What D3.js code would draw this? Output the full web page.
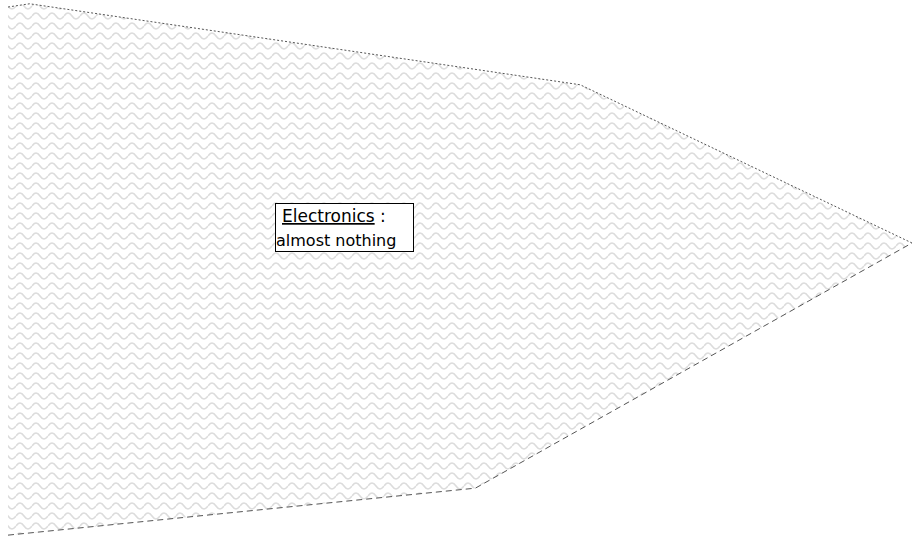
<!DOCTYPE html>
<html>
<head>
<meta charset="utf-8">
<script src="https://cdn.jsdelivr.net/npm/d3@7"></script>
<style>
  body { margin: 0; background: #fff; }
  svg { display: block; }
</style>
</head>
<body>
<svg id="chart" width="912" height="541"></svg>
<script>
// upper and lower edge of the band, in chart units (0-100 both ways)
const topX = [0, 2.4, 63.3, 100];
const topY = [98.7, 99.3, 84.3, 55];
const bottomX = [0, 51.7, 100];
const bottomY = [0.9, 9.6, 55];

const labelName = 'Electronics';
const labelValue = 'almost nothing';

const width = 912, height = 541;
const svg = d3.select('#chart');

let xScale = d3.scaleLinear().domain([0, 100]).range([8, 912]);
let yScale = d3.scaleLinear().domain([0, 100]).range([540, 0]);

let topPts = topX.map((x, i) => [x, topY[i]]);
let bottomPts = bottomX.map((x, i) => [x, bottomY[i]]);

let line = d3.line()
  .x(d => xScale(d[0]))
  .y(d => yScale(d[1]))
  .curve(d3.curveLinear);

// wavy hatch
let defs = svg.append('defs');
let pat = defs.append('pattern')
  .attr('id', 'wave')
  .attr('patternUnits', 'userSpaceOnUse')
  .attr('width', 16)
  .attr('height', 10);
pat.append('path')
  .attr('d', 'M0,6 Q4,0 8,6 T16,6')
  .attr('fill', 'none')
  .attr('stroke', '#dcdcdc')
  .attr('stroke-width', 1.6);

let topPath = line(topPts);
let backPath = line(bottomPts.slice().reverse());

svg.append('path')
  .attr('d', topPath + 'L' + backPath.slice(1) + 'Z')
  .attr('fill', 'url(#wave)');

svg.append('path')
  .attr('d', topPath)
  .attr('fill', 'none')
  .attr('stroke', '#555')
  .attr('stroke-width', 1)
  .attr('stroke-dasharray', '2,2');

svg.append('path')
  .attr('d', line(bottomPts))
  .attr('fill', 'none')
  .attr('stroke', '#555')
  .attr('stroke-width', 1)
  .attr('stroke-dasharray', '6,4');

// label box
let g = svg.append('g').attr('transform', 'translate(275,203)');
g.append('rect')
  .attr('x', 0.5).attr('y', 0.5)
  .attr('width', 138).attr('height', 48)
  .attr('fill', '#fff')
  .attr('stroke', '#000')
  .attr('stroke-width', 1);

let t1 = g.append('text')
  .attr('x', 7).attr('y', 19)
  .style('font-family', 'DejaVu Sans, sans-serif')
  .style('font-size', '17px')
  .attr('fill', '#000');
t1.append('tspan').style('text-decoration', 'underline').text(labelName);
t1.append('tspan').text(' :');

g.append('text')
  .attr('x', 1).attr('y', 43)
  .style('font-family', 'DejaVu Sans, sans-serif')
  .style('font-size', '16px')
  .attr('fill', '#000')
  .text(labelValue);
</script>
</body>
</html>
